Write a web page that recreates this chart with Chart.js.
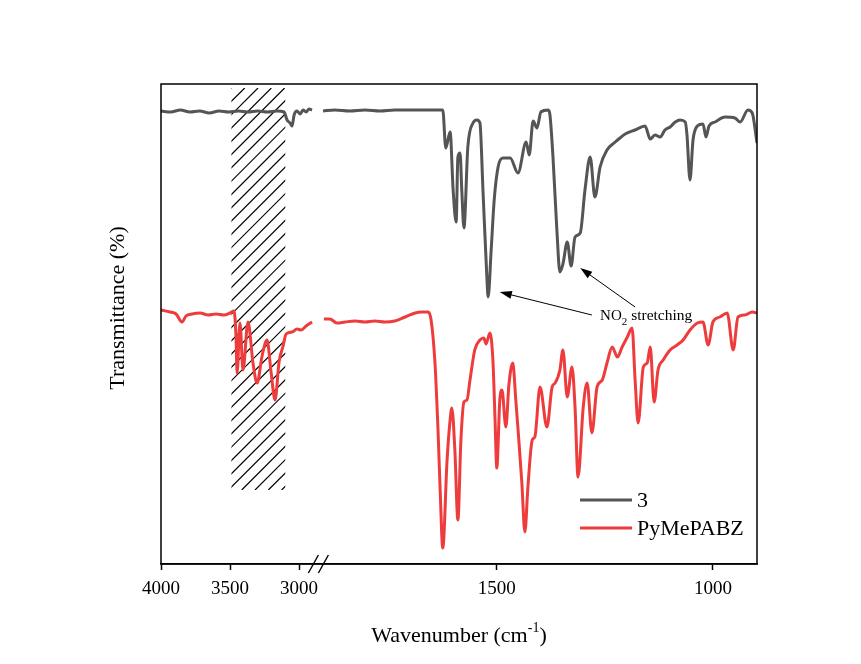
<!DOCTYPE html>
<html>
<head>
<meta charset="utf-8">
<script src="https://cdn.jsdelivr.net/npm/chart.js@4.4.1/dist/chart.umd.min.js"></script>
<style>
  html, body { margin: 0; padding: 0; background: #fff; }
  #wrap { width: 861px; height: 664px; }
</style>
</head>
<body>
<div id="wrap"><canvas id="irChart"></canvas></div>
<script>
// IR spectra, wavenumber in cm-1, transmittance in arbitrary units (curves offset)
const wn3 = [4000, 3930, 3860, 3790, 3720, 3650, 3580, 3510, 3440, 3370, 3300, 3230, 3160, 3109, 3087, 3065, 3051, 3036, 3015, 2993, 2971, 2949, 2928, 2906,
  1902, 1875, 1840, 1805, 1770, 1736, 1701, 1666, 1643, 1625, 1618, 1608, 1601, 1594, 1590, 1585, 1581, 1576, 1567, 1555, 1546, 1539, 1532, 1523, 1520, 1513, 1506, 1497,
  1486, 1469, 1451, 1432, 1425, 1416, 1407, 1398, 1381, 1377, 1370, 1361, 1354, 1347, 1337, 1328, 1319, 1307, 1296, 1284, 1273, 1261, 1245, 1226, 1215, 1203,
  1180, 1157, 1145, 1134, 1122, 1111, 1099, 1087, 1076, 1064, 1060, 1053, 1046, 1036, 1023, 1016, 1009, 995, 972, 949, 937, 919, 909, 898];
const t3 = [113.25, 113, 113.5, 113, 113.25, 112.75, 113.25, 113, 113.25, 113, 113.25, 113, 113.25, 113, 111, 110.25, 109.5, 112.25, 113.25, 112.5, 113.5, 113, 113.75, 113.5,
  113.25, 113.5, 113.25, 113.5, 113.25, 113.5, 113.5, 113.5, 113.5, 113.5, 104, 108, 93.5, 85.5, 101.75, 102.75, 93.5, 84, 104.25, 110.25, 111, 110.25, 93.5, 71.75, 66.75, 78.5, 91, 99.25,
  101.5, 101.5, 97.75, 105.5, 102.25, 110.75, 109, 113, 113.5, 112.25, 101.75, 83.5, 73, 75, 80.5, 74.5, 81.75, 82.75, 93.5, 101.75, 91.75, 99.25, 103.5, 105.5, 106.5, 107.5,
  108.5, 109.5, 106.25, 107.25, 106.75, 108.5, 109.25, 110.5, 111, 110.5, 107.25, 96, 106, 109.5, 110, 106.75, 109.5, 110.5, 111.75, 111.5, 110.5, 113.5, 112.75, 105.25];

const wnPy = [4000, 3935, 3891, 3848, 3819, 3775, 3717, 3659, 3601, 3544, 3500, 3471, 3457, 3449, 3428, 3406, 3370, 3333, 3304, 3268, 3232, 3203, 3174, 3145, 3116, 3094, 3051, 3015, 2986, 2949, 2906,
  1900, 1886, 1870, 1851, 1828, 1805, 1782, 1759, 1736, 1712, 1689, 1673, 1659, 1652, 1643, 1636, 1631, 1625, 1615, 1608, 1604, 1597, 1590, 1583, 1576, 1569, 1562, 1551, 1539, 1530, 1525, 1516, 1509, 1504, 1500,
  1493, 1488, 1479, 1472, 1463, 1456, 1449, 1442, 1435, 1428, 1418, 1412, 1400, 1384, 1372, 1365, 1354, 1347, 1337, 1326, 1319, 1312, 1300, 1291, 1280, 1268, 1256, 1245, 1233, 1221, 1210, 1198, 1187,
  1180, 1173, 1161, 1152, 1145, 1136, 1127, 1115, 1099, 1083, 1069, 1053, 1036, 1023, 1011, 1000, 984, 967, 953, 942, 926, 909, 898];
const tPy = [63.5, 63, 62.5, 60.5, 62, 62.5, 62.75, 62.25, 62.5, 62.25, 62.75, 63.25, 57, 47.75, 60.25, 48.5, 60.5, 50, 45.25, 52, 56, 48, 41, 50.5, 54.5, 57.5, 58, 58.75, 58.5, 59.5, 60.5,
  61.25, 61.25, 60.25, 60.5, 60.75, 60.5, 60.75, 60.5, 60.75, 61.75, 62.75, 63, 63, 61, 50.25, 33.5, 18.5, 4, 26, 36, 39, 28.5, 11, 31, 40.5, 41, 46, 53.5, 56, 56.5, 55, 57.75, 51, 36, 24,
  41, 43.5, 34.25, 44.75, 50.25, 41, 31, 20.25, 8, 19.25, 31, 31.75, 44.25, 34.25, 44.25, 45.25, 48.5, 53.5, 41.75, 49.25, 39.25, 21.75, 39.25, 45.25, 32.75, 44.25, 46, 50.25, 54.25, 51.75, 54.25, 56.75, 59,
  46, 35.25, 49.25, 50.25, 54.25, 40.5, 48.5, 51, 53.5, 54.75, 56, 58.5, 60.25, 60.5, 54.75, 60.5, 61.75, 62.75, 53.5, 61.75, 62.25, 63, 62.75];

const seriesNames = ['3', 'PyMePABZ'];
const seriesColors = ['#555555', '#ee3c3c'];
const tickWn = [4000, 3500, 3000, 1500, 1000];

// broken axis: 4000-2900 compressed, then 1900-900
const BREAK_HI = 2900, BREAK_LO = 1900;
const LEFT_K = 0.138, RIGHT_K = 0.432, GAP = 11;
function toAxis(w) {
  if (w >= BREAK_HI) return (4000 - w) * LEFT_K;
  return (4000 - BREAK_HI) * LEFT_K + GAP + (BREAK_LO - w) * RIGHT_K;
}
const AXIS_END = toAxis(898);
const BREAK_POS = (4000 - BREAK_HI) * LEFT_K + GAP / 2;

// shaded region and annotation positions (wavenumber, transmittance)
const hatchWn = [3490, 3100];
const hatchT = [18.5, 119];
const arrows = [
  { from: [1280, 62.25], to: [1493, 68] },
  { from: [1180, 64.25], to: [1307, 74] }
];
const noteAt = [1261, 61];

function buildPoints(wn, t) {
  const pts = [];
  for (let i = 0; i < wn.length; i++) {
    if (i > 0 && wn[i - 1] >= BREAK_HI && wn[i] < BREAK_HI) pts.push({ x: BREAK_POS, y: null });
    pts.push({ x: toAxis(wn[i]), y: t[i] });
  }
  return pts;
}

const SERIF = '"Liberation Serif", "Times New Roman", serif';

const decor = {
  id: 'decor',
  beforeDatasetsDraw(chart) {
    const ctx = chart.ctx, xs = chart.scales.x, ys = chart.scales.y;
    const x0 = xs.getPixelForValue(toAxis(hatchWn[0])), x1 = xs.getPixelForValue(toAxis(hatchWn[1]));
    const y0 = ys.getPixelForValue(hatchT[1]), y1 = ys.getPixelForValue(hatchT[0]);
    ctx.save();
    ctx.beginPath();
    ctx.rect(x0, y0, x1 - x0, y1 - y0);
    ctx.clip();
    ctx.strokeStyle = '#000';
    ctx.lineWidth = 1.2;
    const h = y1 - y0;
    for (let k = -h; k < (x1 - x0) + 14; k += 13.3) {
      ctx.beginPath();
      ctx.moveTo(x0 + k, y1);
      ctx.lineTo(x0 + k + h, y0);
      ctx.stroke();
    }
    ctx.restore();
  },
  afterDraw(chart) {
    const ctx = chart.ctx, xs = chart.scales.x, ys = chart.scales.y, a = chart.chartArea;
    const px = w => xs.getPixelForValue(toAxis(w));
    const py = t => ys.getPixelForValue(t);
    ctx.save();
    // frame
    ctx.strokeStyle = '#000';
    ctx.lineWidth = 1.5;
    ctx.strokeRect(a.left, a.top, a.right - a.left, a.bottom - a.top);
    // axis break marks
    const bx = xs.getPixelForValue(BREAK_POS);
    ctx.lineWidth = 1.4;
    [-5, 5].forEach(d => {
      ctx.beginPath();
      ctx.moveTo(bx + d - 5, a.bottom + 9);
      ctx.lineTo(bx + d + 5, a.bottom - 9);
      ctx.stroke();
    });
    // arrows
    ctx.lineWidth = 1;
    ctx.fillStyle = '#000';
    arrows.forEach(ar => {
      const fx = px(ar.from[0]), fy = py(ar.from[1]), tx = px(ar.to[0]), ty = py(ar.to[1]);
      const ang = Math.atan2(ty - fy, tx - fx);
      ctx.beginPath();
      ctx.moveTo(fx, fy);
      ctx.lineTo(tx - 8 * Math.cos(ang), ty - 8 * Math.sin(ang));
      ctx.stroke();
      ctx.beginPath();
      ctx.moveTo(tx, ty);
      ctx.lineTo(tx - 12 * Math.cos(ang) + 4 * Math.sin(ang), ty - 12 * Math.sin(ang) - 4 * Math.cos(ang));
      ctx.lineTo(tx - 12 * Math.cos(ang) - 4 * Math.sin(ang), ty - 12 * Math.sin(ang) + 4 * Math.cos(ang));
      ctx.closePath();
      ctx.fill();
    });
    // annotation text
    ctx.textBaseline = 'alphabetic';
    ctx.textAlign = 'left';
    let nx = px(noteAt[0]);
    const ny = py(noteAt[1]);
    ctx.font = '15px ' + SERIF;
    ctx.fillText('NO', nx, ny);
    nx += ctx.measureText('NO').width;
    ctx.font = '11px ' + SERIF;
    ctx.fillText('2', nx, ny + 5);
    nx += ctx.measureText('2').width;
    ctx.font = '15.5px ' + SERIF;
    ctx.fillText(' stretching', nx, ny);
    // legend
    ctx.font = '22px ' + SERIF;
    ctx.textBaseline = 'middle';
    seriesNames.forEach((name, i) => {
      const ly = a.bottom - 64 + i * 28;
      ctx.strokeStyle = seriesColors[i];
      ctx.lineWidth = 3;
      ctx.beginPath();
      ctx.moveTo(a.right - 177, ly);
      ctx.lineTo(a.right - 125, ly);
      ctx.stroke();
      ctx.fillStyle = '#000';
      ctx.fillText(name, a.right - 120, ly + 1);
    });
    // x title with superscript
    const cx = (a.left + a.right) / 2, ty = a.bottom + 78;
    ctx.textBaseline = 'alphabetic';
    ctx.font = '22px ' + SERIF;
    const p1 = 'Wavenumber (cm', p3 = ')';
    const w1 = ctx.measureText(p1).width, w3 = ctx.measureText(p3).width;
    ctx.font = '14px ' + SERIF;
    const w2 = ctx.measureText('-1').width;
    let tx = cx - (w1 + w2 + w3) / 2;
    ctx.font = '22px ' + SERIF;
    ctx.fillText(p1, tx, ty);
    ctx.font = '14px ' + SERIF;
    ctx.fillText('-1', tx + w1, ty - 10);
    ctx.font = '22px ' + SERIF;
    ctx.fillText(p3, tx + w1 + w2, ty);
    // y title
    ctx.translate(a.left - 43, a.top + 224);
    ctx.rotate(-Math.PI / 2);
    ctx.textAlign = 'center';
    ctx.textBaseline = 'middle';
    ctx.fillText('Transmittance (%)', 0, 0);
    ctx.restore();
  }
};

new Chart(document.getElementById('irChart').getContext('2d'), {
  type: 'line',
  data: {
    datasets: [{
      label: seriesNames[0],
      data: buildPoints(wn3, t3),
      borderColor: seriesColors[0],
      borderWidth: 3,
      pointRadius: 0,
      cubicInterpolationMode: 'monotone',
      borderJoinStyle: 'round',
      spanGaps: false
    }, {
      label: seriesNames[1],
      data: buildPoints(wnPy, tPy),
      borderColor: seriesColors[1],
      borderWidth: 3,
      pointRadius: 0,
      cubicInterpolationMode: 'monotone',
      borderJoinStyle: 'round',
      spanGaps: false
    }]
  },
  options: {
    responsive: true,
    maintainAspectRatio: false,
    animation: false,
    layout: { padding: { left: 161, right: 104, top: 84, bottom: 40 } },
    plugins: { legend: { display: false }, tooltip: { enabled: false } },
    scales: {
      x: {
        type: 'linear',
        min: 0,
        max: AXIS_END,
        afterBuildTicks: s => { s.ticks = tickWn.map(w => ({ value: toAxis(w) })); },
        afterFit: s => { s.height = 60; },
        grid: { drawOnChartArea: false, drawTicks: true, tickLength: 6, tickColor: '#000', tickWidth: 1.5 },
        border: { display: true, color: '#000', width: 1.5 },
        ticks: {
          autoSkip: false,
          maxRotation: 0,
          padding: 8,
          color: '#000',
          font: { family: SERIF, size: 19 },
          callback: (v, i) => String(tickWn[i])
        }
      },
      y: { display: false, min: 0, max: 120 }
    }
  },
  plugins: [decor]
});
</script>
</body>
</html>
